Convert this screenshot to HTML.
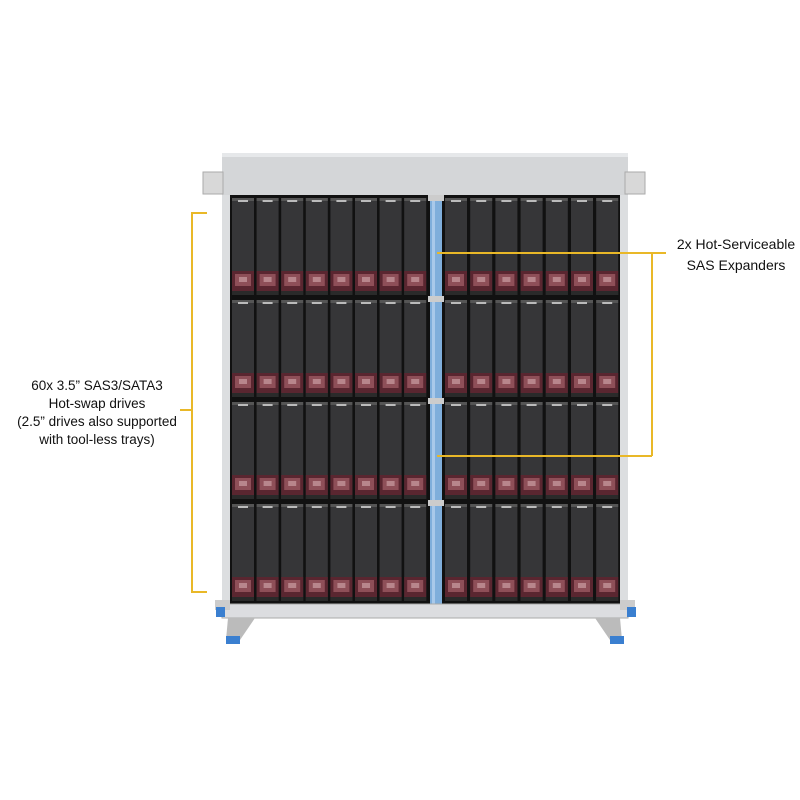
<!DOCTYPE html>
<html><head><meta charset="utf-8"><style>
html,body{margin:0;padding:0;background:#fff;width:800px;height:800px;overflow:hidden}
.t{position:absolute;font-family:"Liberation Sans",sans-serif;font-size:14px;color:#111;text-align:center;line-height:18px}
</style></head><body>
<svg width="800" height="800" style="position:absolute;left:0;top:0">
<defs>
<g id="d">
<rect x="0" y="0" width="22" height="97" fill="#363638"/>
<rect x="0" y="0" width="22" height="3" fill="#555"/>
<rect x="6" y="2" width="10" height="2" fill="#bbb"/>
<rect x="0" y="73" width="22" height="20" fill="#5a2630"/>
<rect x="3" y="76" width="16" height="12" fill="#8e4f58"/>
<rect x="7" y="79" width="8" height="5" fill="#b8868c"/>
<rect x="0" y="93" width="22" height="4" fill="#2a2a2a"/>
</g>
<g id="row">
<use href="#d" x="232"/><use href="#d" x="256.6"/><use href="#d" x="281.2"/><use href="#d" x="305.8"/><use href="#d" x="330.4"/><use href="#d" x="355"/><use href="#d" x="379.6"/><use href="#d" x="404.2"/>
<use href="#d" x="445"/><use href="#d" x="470.2"/><use href="#d" x="495.4"/><use href="#d" x="520.6"/><use href="#d" x="545.8"/><use href="#d" x="571"/><use href="#d" x="596.2"/>
</g>
</defs>
<rect x="222" y="153" width="406" height="42" fill="#d4d6d8"/>
<rect x="222" y="153" width="406" height="4" fill="#e6e8ea"/>
<rect x="203" y="172" width="20" height="22" fill="#d8d8d8" stroke="#aaa"/>
<rect x="625" y="172" width="20" height="22" fill="#d8d8d8" stroke="#aaa"/>
<rect x="222" y="195" width="10" height="412" fill="#dcdee0"/>
<rect x="620" y="195" width="8" height="412" fill="#dcdee0"/>
<rect x="230" y="195" width="390" height="412" fill="#111"/>
<use href="#row" y="198"/>
<use href="#row" y="300"/>
<use href="#row" y="402"/>
<use href="#row" y="504"/>
<rect x="430" y="197" width="12" height="408" fill="#7faedb"/>
<rect x="432" y="197" width="3" height="408" fill="#a9c9ea"/>
<rect x="428" y="195" width="16" height="6" fill="#ccc"/>
<rect x="428" y="296" width="16" height="6" fill="#ccc"/>
<rect x="428" y="398" width="16" height="6" fill="#ccc"/>
<rect x="428" y="500" width="16" height="6" fill="#ccc"/>
<rect x="222" y="604" width="406" height="14" fill="#dcdde0" stroke="#aaa"/>
<rect x="215" y="600" width="15" height="10" fill="#ccc"/>
<rect x="620" y="600" width="15" height="10" fill="#ccc"/>
<rect x="216" y="607" width="9" height="10" fill="#3a7fd0"/>
<rect x="627" y="607" width="9" height="10" fill="#3a7fd0"/>
<polygon points="228,618 255,618 240,640 226,640" fill="#bbb"/>
<rect x="226" y="636" width="14" height="8" fill="#3a7fd0"/>
<polygon points="595,618 620,618 622,640 610,640" fill="#bbb"/>
<rect x="610" y="636" width="14" height="8" fill="#3a7fd0"/>
<g stroke="#e9b828" stroke-width="2" fill="none">
<polyline points="207,213 192,213 192,592 207,592"/>
<line x1="180" y1="410" x2="192" y2="410"/>
<polyline points="437,253 666,253"/>
<line x1="652" y1="253" x2="652" y2="456"/>
<line x1="437" y1="456" x2="652" y2="456"/>
</g>
</svg>
<div class="t" style="left:12px;top:377px;width:170px;font-size:13.5px">60x 3.5” SAS3/SATA3<br>Hot-swap drives<br>(2.5” drives also supported<br>with tool-less trays)</div>
<div class="t" style="left:666px;top:234px;width:140px;line-height:21px">2x Hot-Serviceable<br>SAS Expanders</div>
</body></html>
